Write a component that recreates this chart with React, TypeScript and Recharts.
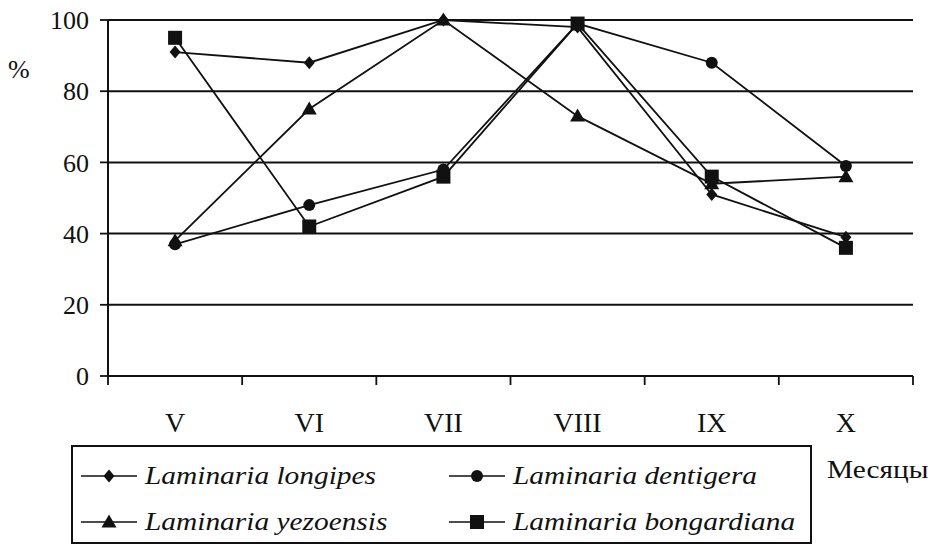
import React from 'react';
import { LineChart, Line, XAxis, YAxis, CartesianGrid } from 'recharts';

const MONTHS = ['V', 'VI', 'VII', 'VIII', 'IX', 'X'];
const LONGIPES = [91, 88, 100, 98, 51, 39];
const DENTIGERA = [37, 48, 58, 99, 88, 59];
const YEZOENSIS = [38, 75, 100, 73, 54, 56];
const BONGARDIANA = [95, 42, 56, 99, 56, 36];
const Y_TICKS = [0, 20, 40, 60, 80, 100];

const SERIES = [
  { key: 'longipes', name: 'Laminaria longipes', shape: 'diamond' },
  { key: 'dentigera', name: 'Laminaria dentigera', shape: 'circle' },
  { key: 'yezoensis', name: 'Laminaria yezoensis', shape: 'triangle' },
  { key: 'bongardiana', name: 'Laminaria bongardiana', shape: 'square' },
];

const rows = MONTHS.map((m, i) => ({
  month: m,
  longipes: LONGIPES[i],
  dentigera: DENTIGERA[i],
  yezoensis: YEZOENSIS[i],
  bongardiana: BONGARDIANA[i],
}));

const W = 931;
const H = 548;
const Y_AXIS_W = 108;
const M_RIGHT = 18;
const STEP = (W - Y_AXIS_W - M_RIGHT) / MONTHS.length;
const INK = '#111';
const FONT = "'Liberation Serif', 'DejaVu Serif', serif";

function Marker({ shape, cx, cy }: { shape: string; cx: number; cy: number }) {
  if (shape === 'diamond')
    return <polygon points={`${cx},${cy - 6.5} ${cx + 5.5},${cy} ${cx},${cy + 6.5} ${cx - 5.5},${cy}`} fill={INK} />;
  if (shape === 'circle') return <circle cx={cx} cy={cy} r={6} fill={INK} />;
  if (shape === 'triangle')
    return <polygon points={`${cx},${cy - 7.5} ${cx + 7.5},${cy + 5.5} ${cx - 7.5},${cy + 5.5}`} fill={INK} />;
  return <rect x={cx - 7} y={cy - 7} width={14} height={14} fill={INK} />;
}

const makeDot = (shape: string) => (p: any) => (
  <Marker key={`${shape}-${p.index}`} shape={shape} cx={p.cx} cy={p.cy} />
);

function MonthTick(props: any) {
  const { x, y, payload, index } = props;
  return (
    <g>
      <line x1={x - STEP / 2} x2={x - STEP / 2} y1={y} y2={y + 9} stroke={INK} strokeWidth={1.8} />
      {index === MONTHS.length - 1 && (
        <line x1={x + STEP / 2} x2={x + STEP / 2} y1={y} y2={y + 9} stroke={INK} strokeWidth={1.8} />
      )}
      <text x={x} y={y + 56} textAnchor="middle" fontSize={28} fontFamily={FONT} fill={INK}>
        {payload.value}
      </text>
    </g>
  );
}

function LegendItem({ shape, name }: { shape: string; name: string }) {
  return (
    <div style={{ display: 'flex', alignItems: 'center', height: 46 }}>
      <svg width={56} height={20} style={{ marginRight: 8 }}>
        <line x1={0} x2={56} y1={10} y2={10} stroke={INK} strokeWidth={1.6} />
        <Marker shape={shape} cx={28} cy={10} />
      </svg>
      <span style={{ fontStyle: 'italic', fontSize: 26, display: 'inline-block', transform: 'scaleX(1.13)', transformOrigin: 'left center', whiteSpace: 'nowrap' }}>
        {name}
      </span>
    </div>
  );
}

export default function App() {
  return (
    <div style={{ position: 'absolute', left: 0, top: 0, width: W, height: H, background: '#fff', fontFamily: FONT, color: INK }}>
      <LineChart width={W} height={H} data={rows} margin={{ top: 20, right: M_RIGHT, left: 0, bottom: 0 }}>
        <CartesianGrid vertical={false} stroke={INK} strokeWidth={2} />
        <XAxis
          dataKey="month"
          height={172}
          interval={0}
          padding={{ left: STEP / 2, right: STEP / 2 }}
          tickLine={false}
          tickSize={0}
          tickMargin={0}
          axisLine={{ stroke: INK, strokeWidth: 2 }}
          tick={<MonthTick />}
        />
        <YAxis
          width={Y_AXIS_W}
          domain={[0, 100]}
          ticks={Y_TICKS}
          interval={0}
          tickSize={8}
          tickMargin={11}
          axisLine={{ stroke: INK, strokeWidth: 2 }}
          tickLine={{ stroke: INK, strokeWidth: 1.8 }}
          tick={{ fill: INK, fontSize: 26, fontFamily: FONT }}
        />
        <YAxis
          yAxisId="r"
          orientation="right"
          width={0}
          domain={[0, 100]}
          tick={false}
          tickLine={false}
          axisLine={{ stroke: '#555', strokeWidth: 1.5 }}
        />
        {SERIES.map(s => (
          <Line
            key={s.key}
            type="linear"
            dataKey={s.key}
            name={s.name}
            stroke={INK}
            strokeWidth={1.8}
            dot={makeDot(s.shape)}
            activeDot={false}
            isAnimationActive={false}
          />
        ))}
      </LineChart>

      <div style={{ position: 'absolute', left: 8, top: 55, fontSize: 26 }}>%</div>

      <div
        style={{
          position: 'absolute', left: 71, top: 445, width: 741, height: 99, boxSizing: 'border-box',
          border: `2px solid ${INK}`, display: 'grid', gridTemplateColumns: '368px 1fr', padding: '6px 0 0 8px',
        }}
      >
        {SERIES.map(s => (
          <LegendItem key={s.key} shape={s.shape} name={s.name} />
        ))}
      </div>

      <div style={{ position: 'absolute', left: 827, top: 455, fontSize: 26, display: 'inline-block', transform: 'scaleX(1.13)', transformOrigin: 'left center' }}>
        Месяцы
      </div>
    </div>
  );
}
